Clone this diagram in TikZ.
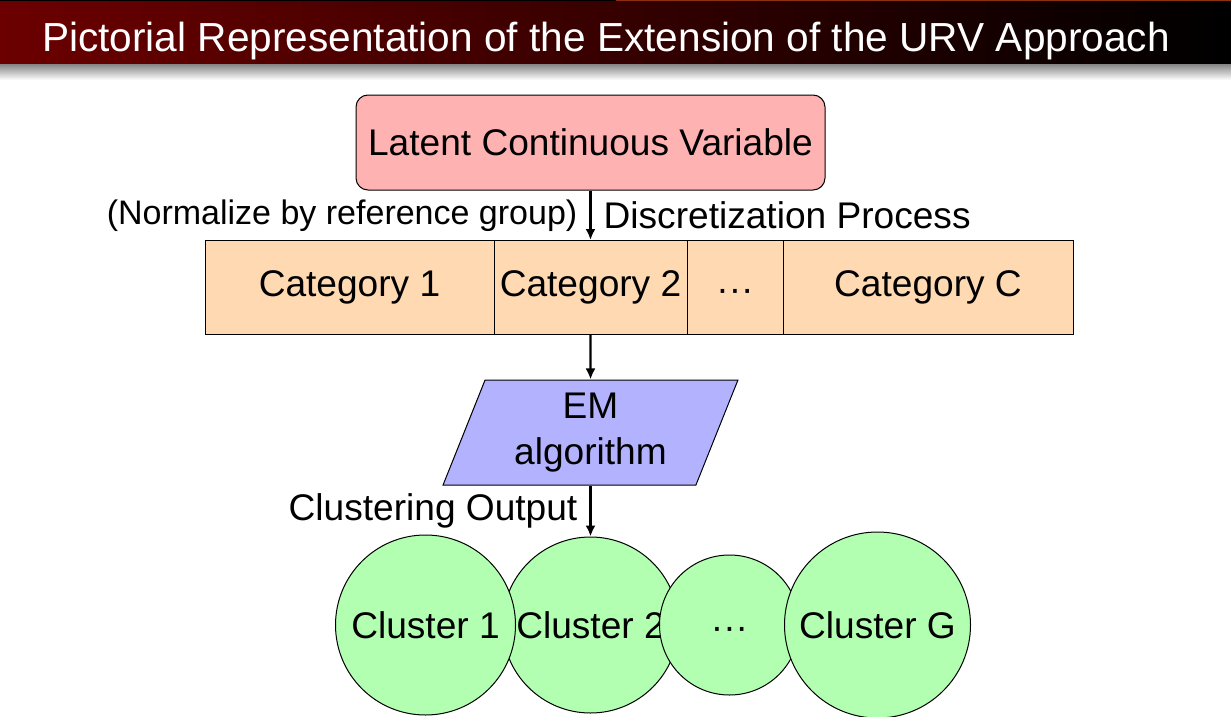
\documentclass[tikz,border=0pt]{standalone}
\usepackage{fontspec}
\setmainfont{Liberation Sans}
\usepackage{xcolor}
\definecolor{framered}{RGB}{108,0,0}
\definecolor{rust}{RGB}{140,48,16}
\usetikzlibrary{arrows.meta,positioning,shapes.geometric}

\newcommand{\middots}{\vphantom{Cy}\raisebox{-5pt}{···}}

\begin{document}
\begin{tikzpicture}[x=1pt,y=-1pt,
  every node/.style={font=\fontsize{37.1}{46}\selectfont},
  latent/.style={rectangle,rounded corners=12pt,draw,line width=1pt,fill=red!30,
                 minimum width=469pt,minimum height=95pt},
  cat/.style={rectangle,draw,line width=1pt,fill=orange!30,
              minimum height=94pt,inner sep=0pt,outer sep=0pt},
  emstep/.style={trapezium,trapezium left angle=69,trapezium right angle=111,
                 trapezium stretches,draw,line width=1pt,fill=blue!30,
                 minimum width=295pt,minimum height=105pt,align=center,inner sep=0pt},
  clus/.style={circle,draw,line width=1pt,fill=green!30,inner sep=0pt},
  flow/.style={-{Latex[length=11pt,width=10pt]},line width=2.3pt},
  tag/.style={inner xsep=12pt,inner ysep=4pt},
]
  \useasboundingbox (0,0) rectangle (1231,717);

  % frame title
  \fill[black] (0,0) rectangle (616,2);
  \fill[rust] (616,0) rectangle (1231,2);
  \shade[left color=framered,right color=black] (0,2) rectangle (1231,65);
  \shade[top color=black!45,bottom color=white] (0,65) rectangle (1231,80);
  \node[anchor=base west,inner sep=0pt,text=white,
        font=\fontsize{40.6}{48}\selectfont] (title) at (42,52)
    {Pictorial Representation of the Extension of the URV Approach};

  % latent variable
  \node[latent] (lcv) at (590.5,142.5) {Latent Continuous Variable};

  % categories
  \node[cat,minimum width=193pt] (catb) at (590.5,287) {Category 2};
  \node[cat,minimum width=289pt,left=0pt of catb] (cata) {Category 1};
  \node[cat,minimum width=96pt,right=0pt of catb] (catdots) {\middots};
  \node[cat,minimum width=290pt,right=0pt of catdots] (catc) {Category C};

  % EM step
  \node[emstep] (em) at (590.5,432.5) {EM\\algorithm};

  % clusters
  \node[clus,minimum size=176pt] (clb) at (590.5,625) {Cluster 2};
  \node[clus,minimum size=180pt,left=-14pt of clb] (cla) {Cluster 1};
  \node[clus,minimum size=140pt,right=-20pt of clb] (cldots) {\middots};
  \node[clus,minimum size=186pt,right=-16pt of cldots] (clg) {Cluster G};

  % arrows
  \draw[flow] (lcv) -- (catb)
    node[tag,midway,left,font=\fontsize{34}{40}\selectfont] {(Normalize by reference group)}
    node[tag,midway,right] {Discretization Process};
  \draw[flow] (catb) -- (em);
  \draw[flow] (em) -- (clb)
    node[tag,midway,left] {Clustering Output};
\end{tikzpicture}
\end{document}
